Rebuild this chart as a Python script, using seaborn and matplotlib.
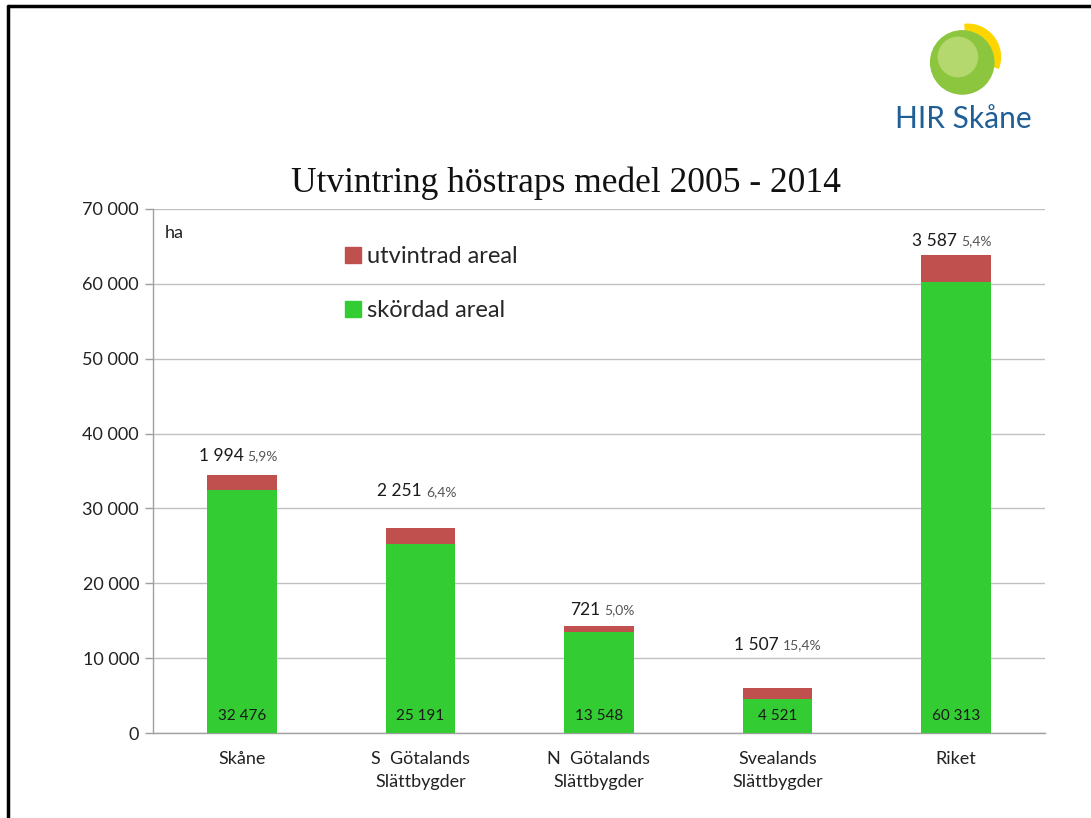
#%% Librerias
import numpy as np
import pandas as pd
import seaborn as sns
import matplotlib.pyplot as plt
from matplotlib.lines import Line2D
from matplotlib.patches import Circle, Wedge

#%% Datos
regioner = ["Skåne", "S  Götalands\nSlättbygder", "N  Götalands\nSlättbygder",
            "Svealands\nSlättbygder", "Riket"]
skordad = [32476, 25191, 13548, 4521, 60313]
utvintrad = [1994, 2251, 721, 1507, 3587]
procent = ["5,9%", "6,4%", "5,0%", "15,4%", "5,4%"]
yticks = [0, 10000, 20000, 30000, 40000, 50000, 60000, 70000]

# label offsets above bars (points)
lbl_off = [14, 26, 12, 31, 10]

df = pd.DataFrame({"region": regioner, "skordad": skordad, "utvintrad": utvintrad})
df["total"] = df["skordad"] + df["utvintrad"]

def fmt(v):
    return f"{int(v):,}".replace(",", " ")

#%% Figura
sns.set_style("white")
plt.rcParams["font.family"] = ["Lato", "DejaVu Sans"]

GREEN = "#33cc33"
RED = "#c0504d"

fig = plt.figure(figsize=(10.91, 8.18), dpi=100)
ax = fig.add_axes([0.1402, 0.1039, 0.8176, 0.6406])

sns.barplot(data=df, x="region", y="total", color=RED, width=0.39,
            saturation=1, linewidth=0, ax=ax, zorder=3)
sns.barplot(data=df, x="region", y="skordad", color=GREEN, width=0.39,
            saturation=1, linewidth=0, ax=ax, zorder=4)

ax.set_xlim(-0.5, 4.5)
ax.set_ylim(0, 70000)
ax.set_yticks(yticks)
ax.set_yticklabels([fmt(t) for t in yticks], fontsize=13, color="#222222")
ax.set_xticks(range(5))
ax.set_xticklabels(regioner, fontsize=13, color="#222222", linespacing=1.55)
ax.set_xticks(np.arange(-0.5, 5, 1), minor=True)
ax.tick_params(axis="x", which="major", length=0, pad=13)
ax.tick_params(axis="x", which="minor", length=6, color="#a0a0a0", width=1)
ax.tick_params(axis="y", length=6, color="#a0a0a0", width=1, pad=4, direction="out", left=True)
ax.set_xlabel("")
ax.set_ylabel("")
ax.grid(axis="y", color="#c0c0c0", linewidth=1, zorder=0)
for s in ["top", "right"]:
    ax.spines[s].set_visible(False)
for s in ["left", "bottom"]:
    ax.spines[s].set_color("#a0a0a0")
    ax.spines[s].set_linewidth(1)

# etiquetas
for i in range(len(regioner)):
    ax.annotate(fmt(skordad[i]), (i, 0), xytext=(0, 12), textcoords="offset points",
                ha="center", va="center", fontsize=11, color="#1a1a1a", zorder=5)
    tot = skordad[i] + utvintrad[i]
    ax.annotate(fmt(utvintrad[i]), (i, tot), xytext=(1, lbl_off[i]), textcoords="offset points",
                ha="right", va="center", fontsize=12.5, color="#1a1a1a")
    ax.annotate(procent[i], (i, tot), xytext=(4, lbl_off[i] - 0.5), textcoords="offset points",
                ha="left", va="center", fontsize=10, color="#555555")

ax.text(0.013, 0.955, "ha", transform=ax.transAxes, fontsize=13, color="#222222",
        va="center", ha="left")

handles = [Line2D([], [], marker="s", linestyle="", color=RED, markersize=11),
           Line2D([], [], marker="s", linestyle="", color=GREEN, markersize=11)]
ax.legend(handles, ["utvintrad areal", "skördad areal"], loc="upper left",
          bbox_to_anchor=(0.187, 0.97), frameon=False, fontsize=17,
          handletextpad=0.1, labelspacing=1.4, handlelength=1.0)

fig.text(0.519, 0.776, "Utvintring höstraps medel 2005 - 2014", ha="center", va="center",
         fontsize=25.5, family="Liberation Serif", color="#111111")

#%% Logo
lax = fig.add_axes([0.835, 0.847, 0.10, 0.14])
lax.set_xlim(0, 1)
lax.set_ylim(0, 1)
lax.set_aspect("equal")
lax.axis("off")
lax.add_patch(Wedge((0.52, 0.60), 0.30, -20, 95, width=0.10, color="#ffd500", zorder=1))
lax.add_patch(Circle((0.47, 0.55), 0.29, color="#8cc63f", zorder=2))
lax.add_patch(Circle((0.43, 0.60), 0.18, color="#b5d86e", zorder=3))
fig.text(0.820, 0.855, "HIR Skåne", ha="left", va="center", fontsize=21.5,
         color="#1f5f96")

# marco
fig.add_artist(Line2D([0.0075, 1.0], [0.9925, 0.9925], transform=fig.transFigure,
                      color="black", linewidth=2.5))
fig.add_artist(Line2D([0.0075, 0.0075], [0.0, 0.9925], transform=fig.transFigure,
                      color="black", linewidth=2.5))

fig.savefig("out.png", dpi=100)
